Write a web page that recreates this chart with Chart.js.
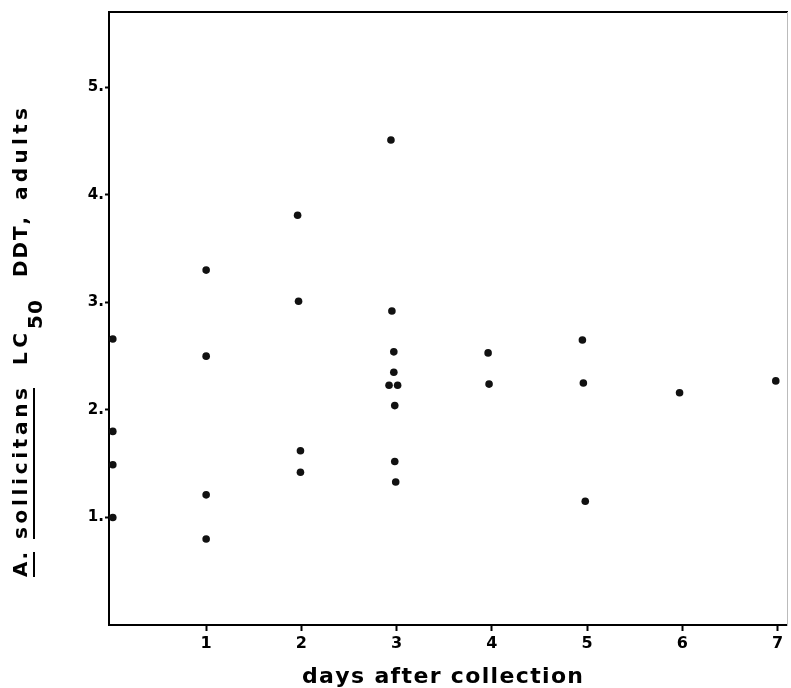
<!DOCTYPE html>
<html>
<head>
<meta charset="utf-8">
<title>A. sollicitans LC50 DDT</title>
<script src="https://cdn.jsdelivr.net/npm/chart.js@4.4.1/dist/chart.umd.min.js"></script>
<style>
  body { margin: 0; background: #fff; }
  #wrap { width: 791px; height: 688px; }
</style>
</head>
<body>
<div id="wrap"><canvas id="myChart" width="791" height="688"></canvas></div>
<script>
// values
const days = [0.02, 0.02, 0.02, 0.02,
              1, 1, 1, 1,
              1.96, 1.97, 1.99, 1.99,
              2.94, 2.95, 2.97, 2.97, 2.92, 3.01, 2.98, 2.98, 2.99,
              3.96, 3.97,
              4.95, 4.96, 4.98,
              5.97,
              6.98];
const lc50 = [2.66, 1.80, 1.49, 1.00,
              3.30, 2.50, 1.21, 0.80,
              3.81, 3.01, 1.62, 1.42,
              4.51, 2.92, 2.54, 2.35, 2.23, 2.23, 2.04, 1.52, 1.33,
              2.53, 2.24,
              2.65, 2.25, 1.15,
              2.16,
              2.27];
const xTicks = [1, 2, 3, 4, 5, 6, 7];
const xTickLabels = ['1', '2', '3', '4', '5', '6', '7'];
const yTicks = [1, 2, 3, 4, 5];
const yTickLabels = ['1.', '2.', '3.', '4.', '5.'];
const xTitle = 'days after collection';

const points = days.map((d, i) => ({ x: d, y: lc50[i] }));
const FONT = '"DejaVu Sans", sans-serif';

// draw text one char at a time, spread to fill a given length
function spreadText(ctx, text, x, y, len) {
    const chars = text.split('');
    let w = 0;
    chars.forEach(c => { w += ctx.measureText(c).width; });
    const gap = chars.length > 1 ? (len - w) / (chars.length - 1) : 0;
    let pos = x;
    chars.forEach(c => {
        ctx.fillText(c, pos, y);
        pos += ctx.measureText(c).width + gap;
    });
}

const titlesPlugin = {
    id: 'titles',
    afterDraw(chart) {
        const ctx = chart.ctx;
        ctx.save();
        ctx.fillStyle = '#000';
        ctx.textBaseline = 'alphabetic';
        ctx.textAlign = 'left';

        // x axis title
        ctx.font = 'bold 22px ' + FONT;
        spreadText(ctx, xTitle, 302, 683, 281);

        // y axis title, rotated, with underline and subscript
        ctx.translate(27, 577);
        ctx.rotate(-Math.PI / 2);
        ctx.font = 'bold 20px ' + FONT;
        const parts = [
            { t: 'A.', a: 0, b: 25, shift: 0, line: true },
            { t: 'sollicitans', a: 38, b: 189, shift: 0, line: true },
            { t: 'LC', a: 212, b: 244, shift: 0 },
            { t: '50', a: 248, b: 277, shift: 15 },
            { t: 'DDT,', a: 300, b: 360, shift: 0 },
            { t: 'adults', a: 377, b: 469, shift: 0 }
        ];
        parts.forEach(p => {
            spreadText(ctx, p.t, p.a, p.shift, p.b - p.a);
            if (p.line) {
                ctx.fillRect(p.a, 6, p.b - p.a, 2);
            }
        });
        ctx.restore();
    }
};

const ctx = document.getElementById('myChart');
const myChart = new Chart(ctx, {
    type: 'scatter',
    data: {
        datasets: [{
            label: 'LC50',
            data: points,
            backgroundColor: '#111',
            borderWidth: 0,
            pointRadius: 3.8,
            pointHoverRadius: 3.8
        }]
    },
    options: {
        responsive: false,
        animation: false,
        events: [],
        layout: { padding: 0 },
        plugins: {
            legend: { display: false },
            tooltip: { enabled: false }
        },
        scales: {
            x: {
                type: 'linear',
                position: 'bottom',
                min: -0.02,
                max: 7.1,
                afterBuildTicks: s => { s.ticks = xTicks.map(v => ({ value: v })); },
                afterFit: s => { s.height = 63; },
                ticks: {
                    color: '#000',
                    padding: 3,
                    maxRotation: 0,
                    font: { family: FONT, size: 16, weight: 'bold' },
                    callback: v => xTickLabels[xTicks.indexOf(v)]
                },
                grid: { drawOnChartArea: false, drawTicks: true, tickLength: 6, tickColor: '#000', tickWidth: 2 },
                border: { color: '#000', width: 2 }
            },
            y: {
                type: 'linear',
                position: 'left',
                min: 0,
                max: 5.7,
                afterBuildTicks: s => { s.ticks = yTicks.map(v => ({ value: v })); },
                afterFit: s => { s.width = 109; },
                ticks: {
                    color: '#000',
                    padding: 1,
                    font: { family: FONT, size: 15, weight: 'bold' },
                    callback: v => yTickLabels[yTicks.indexOf(v)]
                },
                grid: { drawOnChartArea: false, drawTicks: true, tickLength: 4, tickColor: '#000', tickWidth: 2 },
                border: { color: '#000', width: 2 }
            },
            top: {
                type: 'linear',
                position: 'top',
                ticks: { display: false },
                grid: { display: false },
                afterFit: s => { s.height = 12; },
                border: { color: '#000', width: 2 }
            },
            right: {
                type: 'linear',
                position: 'right',
                ticks: { display: false },
                grid: { display: false },
                afterFit: s => { s.width = 3; },
                border: { color: '#bbb', width: 1 }
            }
        }
    },
    plugins: [titlesPlugin]
});
</script>
</body>
</html>
